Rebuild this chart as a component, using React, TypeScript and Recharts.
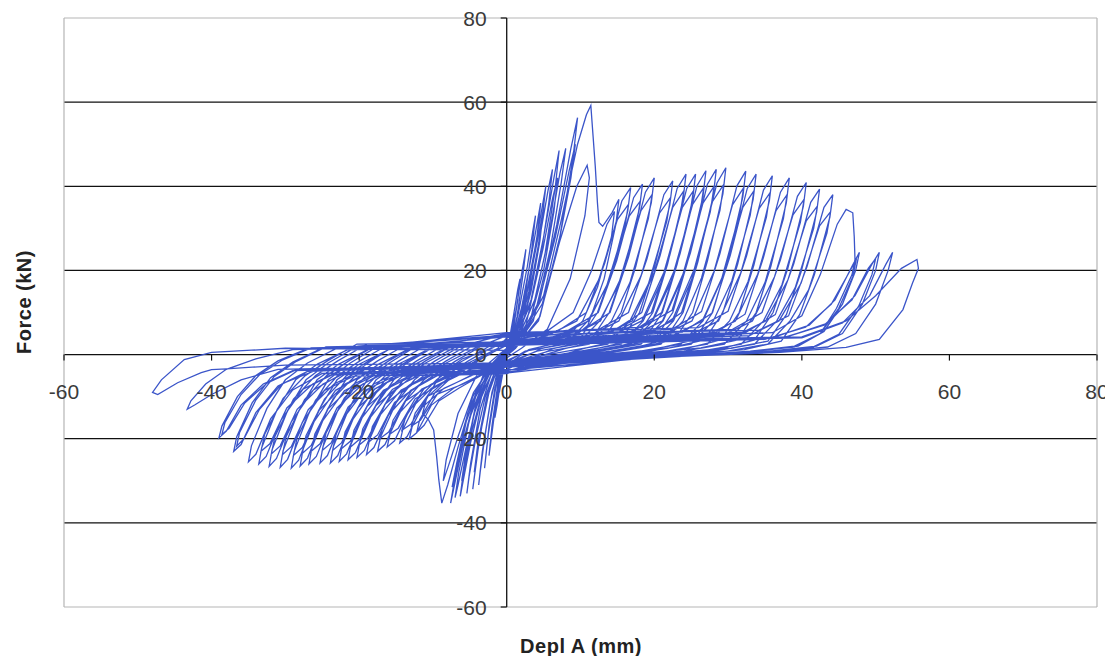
import { LineChart, Line, XAxis, YAxis, CartesianGrid, ReferenceLine } from 'recharts';

// displacement (mm), force (kN)
const elasticCycles = [
  [0, 0], [0.3, 3], [0.7, 7], [1.0, 10], [0.8, 7], [0.4, 3], [0, 0.5], [-0.3, -2.5], [-0.7, -6], [-1.0, -9], [-0.8, -6.5], [-0.4, -2.5], [0, 0],
  [0.3, 2.5], [0.9, 9], [1.5, 15.5], [1.8, 18], [1.5, 13], [0.9, 6], [0.3, 1.5], [-0.3, -1.5], [-0.8, -6], [-1.3, -12], [-1.6, -15], [-1.3, -10.5], [-0.7, -4.5], [-0.1, 0.5],
  [0.5, 3.5], [1.3, 11], [2.1, 20], [2.6, 25], [2.2, 19], [1.4, 9], [0.6, 2.5], [-0.4, -1.5], [-1.1, -7], [-1.8, -16], [-2.4, -24], [-2.0, -17], [-1.2, -7], [-0.4, -0.5],
  [0.6, 3], [1.6, 10], [2.8, 21], [3.5, 29], [3.9, 33], [3.4, 25], [2.4, 13], [1.2, 4], [0, 0.5], [-0.8, -2.5], [-1.6, -8], [-2.4, -17], [-3.0, -27], [-2.5, -19], [-1.5, -8], [-0.5, -0.5],
  [0.8, 3.5], [2.0, 11], [3.3, 23], [4.2, 32], [4.6, 36], [4.1, 28], [3.0, 15], [1.6, 5], [0.2, 0.5], [-1.0, -3], [-2.0, -9], [-3.0, -20], [-3.6, -28], [-3.8, -31], [-3.3, -23], [-2.2, -11], [-1.0, -2], [0, 1],
  [1.0, 4], [2.4, 12], [3.8, 25], [4.8, 35], [5.3, 40], [4.8, 32], [3.6, 18], [2.0, 6], [0.4, 1], [-1.2, -3], [-2.4, -9], [-3.6, -19], [-4.3, -28], [-4.6, -32], [-4.1, -25], [-2.9, -12], [-1.4, -2.5], [0, 1],
  [0.9, 3.5], [2.2, 10], [3.6, 22], [4.6, 31], [5.0, 35], [4.5, 27], [3.3, 15], [1.8, 5], [0.3, 0.5], [-1.1, -3], [-2.3, -8], [-3.4, -17], [-4.1, -25], [-4.4, -28], [-3.9, -21], [-2.7, -10], [-1.3, -2], [0, 1],
  [1.2, 4.5], [2.8, 12], [4.4, 27], [5.6, 39], [6.2, 44], [5.7, 36], [4.4, 21], [2.6, 7], [0.6, 1], [-1.5, -3.5], [-2.9, -10], [-4.2, -20], [-5.1, -29], [-5.4, -33], [-4.9, -26], [-3.6, -13], [-1.8, -3], [0, 1.5],
  [1.5, 5], [3.3, 13], [5.0, 28], [6.4, 42], [7.1, 48.5], [6.6, 40], [5.2, 24], [3.2, 8], [0.8, 1.5], [-1.8, -3.5], [-3.4, -10], [-4.9, -21], [-5.9, -30], [-6.3, -33.7], [-5.8, -27], [-4.4, -14], [-2.2, -3.5], [0, 1.5],
  [1.4, 4.5], [3.2, 12], [4.9, 25], [6.2, 37], [6.9, 42], [6.4, 34], [5.0, 20], [3.0, 7], [0.7, 1.5], [-1.7, -3.5], [-3.3, -9], [-4.7, -18], [-5.7, -27], [-6.1, -30], [-5.6, -24], [-4.2, -12], [-2.1, -3], [0, 1.5],
  [1.8, 5], [3.8, 13], [5.7, 28], [7.2, 43], [8.0, 49], [7.4, 41], [5.9, 25], [3.6, 8], [1.0, 1.5], [-2.0, -3.5], [-3.8, -10], [-5.5, -22], [-6.6, -31], [-7.0, -34], [-6.5, -28], [-5.0, -15], [-2.6, -4], [0, 1.5],
  [2.0, 5], [4.5, 13], [6.8, 31], [8.7, 49], [9.6, 56.3], [9.0, 47], [7.2, 28], [4.5, 9], [1.2, 1.5], [-2.2, -3.5], [-4.2, -10], [-6.0, -22], [-7.2, -32], [-7.6, -35.3], [-7.0, -29], [-5.5, -16], [-3.0, -4], [0, 1.5],
  [1.9, 5], [4.3, 12], [6.6, 28], [8.5, 44], [9.3, 50], [8.7, 42], [6.9, 25], [4.3, 8], [1.1, 1.5], [-2.1, -3.5], [-4.1, -9], [-5.8, -20], [-7.0, -28.5], [-7.4, -31.5], [-6.8, -26], [-5.3, -14], [-2.9, -4], [0, 1.5],
];

const peakCycles = [
  [2.4, 5.5], [5.0, 14], [7.4, 32], [9.6, 50], [10.8, 57], [11.4, 59.2], [11.7, 52], [12.0, 44.8], [12.3, 36], [12.5, 31.4],
  [13.0, 30.5], [14.3, 33.8], [15.2, 36.9], [14.8, 31], [13.2, 18], [11.0, 7], [8.0, 2.5], [3.0, 1],
  [-2.5, -3.5], [-4.6, -10], [-6.6, -22], [-8.0, -31], [-8.8, -35.3], [-9.2, -29.8], [-9.5, -24.2], [-9.9, -17.9],
  [-10.6, -15.5], [-11.4, -14], [-10.8, -10], [-8.8, -4.5], [-6, -1], [-2, 1.5],
  [2.3, 5], [4.8, 12], [7.2, 27], [9.5, 40], [10.9, 45], [11.2, 42], [10.6, 33], [8.6, 18], [5.5, 6], [2, 1.5],
  [-2.4, -3.5], [-4.5, -9], [-6.5, -19], [-8, -27], [-8.6, -30], [-8.2, -25], [-6.6, -14], [-3.8, -4], [0, 1.5],
  [0, 3], [5, 5], [9, 10], [11.5, 20], [13.6, 31], [14.6, 34], [14.2, 28], [12.3, 16], [10.3, 8], [7.5, 3], [3, 1.2], [0, -2.5],
  [-3, -4.5], [-6.5, -8], [-9.2, -11], [-11.2, -16.8], [-12.2, -18.5], [-11.8, -15.5], [-9.7, -9], [-7.2, -5], [-4.2, -1.5], [-0.2, 2],
];

const softeningCycles = [
  [0, 3], [6.8, 5.5], [10.8, 10], [13.3, 21.8], [15.6, 36.5], [16.8, 39.7], [16.4, 34.1], [14.3, 19.9], [12.3, 10], [9.8, 3.5], [4.8, 1.5], [0, -2.5],
  [-3.2, -4.5], [-7.2, -8], [-10.2, -12], [-12.2, -18.6], [-13.2, -20], [-12.8, -17], [-10.7, -10], [-8.2, -6], [-5.2, -2], [-1.2, 1.5],
  [0, 4], [8.4, 5.8], [12.4, 10], [14.9, 22.3], [17.2, 37.3], [18.4, 40.5], [18.0, 34.8], [15.9, 20.3], [13.9, 10], [11.4, 3.5], [6.4, 1.5], [0, -3.5],
  [-4.5, -4.8], [-8.5, -8], [-11.5, -12.6], [-13.5, -19.5], [-14.5, -21], [-14.1, -17.9], [-12, -10.5], [-9.5, -6], [-6.5, -2], [-2.5, 1.8],
  [0, 3.5], [10, 5.5], [14, 10], [16.5, 23.1], [18.8, 38.6], [20, 42], [19.6, 36.1], [17.5, 21], [15.5, 10], [13, 3.5], [8, 1.5], [0, -2.8],
  [-6.2, -4.5], [-10.2, -8], [-13.2, -13.2], [-15.2, -20.5], [-16.2, -22], [-15.8, -18.7], [-13.7, -11], [-11.2, -6], [-8.2, -2], [-4.2, 1.6],
  [0, 4.5], [12.5, 6], [16.5, 10], [19, 22.7], [21.3, 38], [22.5, 41.3], [22.1, 35.5], [20, 20.7], [18, 10], [15.5, 3.5], [10.5, 1.5], [0, -4],
  [-7.5, -5], [-11.5, -8.2], [-14.5, -13.8], [-16.5, -21.4], [-17.5, -23], [-17.1, -19.6], [-15, -11.5], [-12.5, -6], [-9.5, -2], [-5.5, 2],
  [0, 3.2], [14.3, 5.5], [18.3, 10], [20.8, 23.6], [23.1, 39.5], [24.3, 42.9], [23.9, 36.9], [21.8, 21.5], [19.8, 10], [17.3, 3.5], [12.3, 1.5], [0, -3],
  [-9, -4.6], [-13, -8.5], [-16, -14.3], [-18, -22.1], [-19, -23.8], [-18.6, -20.2], [-16.5, -11.9], [-14, -6], [-11, -2], [-7, 1.7],
  [0, 4.8], [15.6, 6.2], [19.6, 10], [22.1, 23.6], [24.4, 39.5], [25.6, 42.9], [25.2, 36.9], [23.1, 21.5], [21.1, 10], [18.6, 3.5], [13.6, 1.3], [0, -4.5],
  [-10.3, -5], [-14.3, -8.4], [-17.3, -14.7], [-19.3, -22.8], [-20.3, -24.5], [-19.9, -20.8], [-17.8, -12.3], [-15.3, -6], [-12.3, -2.2], [-8.3, 1.5],
  [0, 3], [17, 5.4], [21, 10], [23.5, 24], [25.8, 40.2], [27, 43.7], [26.6, 37.6], [24.5, 21.9], [22.5, 10], [20, 3.5], [15, 1.7], [0, -2.2],
  [-11.5, -4.4], [-15.5, -8.3], [-18.5, -15], [-20.5, -23.3], [-21.5, -25], [-21.1, -21.3], [-19, -12.5], [-16.5, -6], [-13.5, -2], [-9.5, 2.2],
  [0, 5], [18.4, 6.5], [22.4, 10.5], [24.9, 24.2], [27.2, 40.5], [28.4, 44], [28, 37.8], [25.9, 22], [23.9, 10], [21.4, 3.5], [16.4, 1.2], [0, -3.8],
  [-12.7, -5], [-16.7, -8.5], [-19.7, -15.2], [-21.7, -23.6], [-22.7, -25.4], [-22.3, -21.6], [-20.2, -12.7], [-17.7, -6], [-14.7, -2.3], [-10.7, 1.2],
  [0, 2.8], [19.7, 5.2], [23.7, 10], [26.2, 24.4], [28.5, 40.8], [29.7, 44.4], [29.3, 38.2], [27.2, 22.2], [25.2, 10], [22.7, 3.5], [17.7, 1.6], [0, -2.6],
  [-13.9, -4.3], [-17.9, -8.2], [-20.9, -15.5], [-22.9, -24], [-23.9, -25.8], [-23.5, -21.9], [-21.4, -12.9], [-18.9, -6], [-15.9, -2], [-11.9, 2.4],
  [0, 4.2], [22.4, 6], [26.4, 10.2], [28.9, 24], [31.2, 40.1], [32.4, 43.6], [32, 37.5], [29.9, 21.8], [27.9, 10], [25.4, 3.5], [20.4, 1.4], [0, -4.2],
  [-15.3, -5.2], [-19.3, -8.6], [-22.3, -15.5], [-24.3, -24], [-25.3, -25.8], [-24.9, -21.9], [-22.8, -12.9], [-20.3, -6], [-17.3, -2.2], [-13.3, 1.3],
  [0, 3], [23.8, 5.3], [27.8, 9.8], [30.3, 23.6], [32.6, 39.5], [33.8, 42.9], [33.4, 36.9], [31.3, 21.5], [29.3, 10], [26.8, 3.5], [21.8, 1.5], [0, -2.4],
  [-16.8, -4.4], [-20.8, -8.3], [-23.8, -15.6], [-25.8, -24.2], [-26.8, -26], [-26.4, -22.1], [-24.3, -13], [-21.8, -6], [-18.8, -2], [-14.8, 2.6],
  [0, 5.2], [26, 6.4], [30, 10.3], [32.5, 23.4], [34.8, 39.1], [36, 42.5], [35.6, 36.6], [33.5, 21.3], [31.5, 10], [29, 3.5], [24, 1.3], [0, -3.6],
  [-18, -5], [-22, -8.6], [-25, -15.9], [-27, -24.6], [-28, -26.5], [-27.6, -22.5], [-25.5, -13.3], [-23, -6], [-20, -2.3], [-16, 1.2],
  [0, 2.7], [28.3, 5.2], [32.3, 9.6], [34.8, 23.1], [37.1, 38.6], [38.3, 42], [37.9, 36.1], [35.8, 21], [33.8, 10], [31.3, 3.5], [26.3, 1.6], [0, -2.9],
  [-19.2, -4.6], [-23.2, -8.5], [-26.2, -16.2], [-28.2, -25.1], [-29.2, -27], [-28.8, -23], [-26.7, -13.5], [-24.2, -6], [-21.2, -2], [-17.2, 2.3],
  [0, 4.4], [30.6, 6], [34.6, 10], [37.1, 22.5], [39.4, 37.6], [40.6, 40.9], [40.2, 35.2], [38.1, 20.5], [36.1, 10], [33.6, 3.5], [28.6, 1.2], [0, -4.4],
  [-20.7, -5.1], [-24.7, -8.5], [-27.7, -16.1], [-29.7, -24.9], [-30.7, -26.8], [-30.3, -22.8], [-28.2, -13.4], [-25.7, -6], [-22.7, -2.2], [-18.7, 1.3],
  [0, 3.1], [32.4, 5.3], [36.4, 9.5], [38.9, 21.6], [41.2, 36.2], [42.4, 39.3], [42, 33.8], [39.9, 19.7], [37.9, 9.5], [35.4, 3.2], [30.4, 1.5], [0, -2.5],
  [-22.2, -4.5], [-26.2, -8.4], [-29.2, -16], [-31.2, -24.7], [-32.2, -26.6], [-31.8, -22.6], [-29.7, -13.3], [-27.2, -6], [-24.2, -2], [-20.2, 2],
  [0, 4.6], [34.2, 5.8], [38.2, 9.2], [40.7, 20.9], [43, 35], [44.2, 38], [43.8, 32.7], [41.7, 19], [39.7, 9.5], [37.2, 3.2], [32.2, 1.2], [0, -3.7],
  [-23.6, -4.8], [-27.6, -8.2], [-30.6, -15.6], [-32.6, -24.2], [-33.6, -26], [-33.2, -22.1], [-31.1, -13], [-28.6, -6], [-25.6, -2.2], [-21.6, 1.1],
];

// second cycle at each displacement level, a little weaker
const repeatCycles = [
  [0, 2], [5.5, 4.5], [9.5, 8], [12.5, 17.9], [15, 32.1], [16.5, 35.7], [16, 30.3], [13.5, 16.1], [11, 8], [8, 2.5], [2.5, 0.8], [0, -1.8],
  [-1.9, -3.5], [-5.9, -7], [-9.4, -9.4], [-11.7, -15.6], [-12.9, -17], [-12.4, -13.9], [-9.9, -7.7], [-6.9, -5], [-3.9, -1.5], [0.1, 2.5],
  [0, 2.2], [7.1, 4.5], [11.1, 8], [14.1, 18.3], [16.6, 32.9], [18.1, 36.5], [17.6, 31], [15.1, 16.4], [12.6, 8], [9.6, 2.5], [4.1, 0.8], [0, -2],
  [-3.2, -3.5], [-7.2, -7], [-10.7, -9.9], [-13, -16.6], [-14.2, -18], [-13.7, -14.8], [-11.2, -8.1], [-8.2, -5], [-5.2, -1.5], [-1.2, 2.5],
  [0, 2.4], [8.7, 4.5], [12.7, 8], [15.7, 19], [18.2, 34.2], [19.7, 38], [19.2, 32.3], [16.7, 17.1], [14.2, 8], [11.2, 2.5], [5.7, 0.8], [0, -2.2],
  [-4.9, -3.5], [-8.9, -7], [-12.4, -10.5], [-14.7, -17.5], [-15.9, -19], [-15.4, -15.6], [-12.9, -8.6], [-9.9, -5], [-6.9, -1.5], [-2.9, 2.5],
  [0, 2], [11.2, 4.5], [15.2, 8], [18.2, 18.7], [20.7, 33.6], [22.2, 37.3], [21.7, 31.7], [19.2, 16.8], [16.7, 8], [13.7, 2.5], [8.2, 0.8], [0, -1.8],
  [-6.2, -3.5], [-10.2, -7], [-13.7, -11], [-16, -18.4], [-17.2, -20], [-16.7, -16.4], [-14.2, -9], [-11.2, -5], [-8.2, -1.5], [-4.2, 2.5],
  [0, 2.3], [13, 4.5], [17, 8], [20, 19.5], [22.5, 35], [24, 38.9], [23.5, 33.1], [21, 17.5], [18.5, 8], [15.5, 2.5], [10, 0.8], [0, -2],
  [-7.7, -3.5], [-11.7, -7], [-15.2, -11.4], [-17.5, -19.1], [-18.7, -20.8], [-18.2, -17.1], [-15.7, -9.4], [-12.7, -5], [-9.7, -1.5], [-5.7, 2.5],
  [0, 2.1], [14.3, 4.5], [18.3, 8], [21.3, 19.5], [23.8, 35], [25.3, 38.9], [24.8, 33.1], [22.3, 17.5], [19.8, 8], [16.8, 2.5], [11.3, 0.8], [0, -1.9],
  [-9, -3.5], [-13, -7], [-16.5, -11.8], [-18.8, -19.8], [-20, -21.5], [-19.5, -17.6], [-17, -9.7], [-14, -5], [-11, -1.5], [-7, 2.5],
  [0, 2.5], [15.7, 4.5], [19.7, 8], [22.7, 19.9], [25.2, 35.7], [26.7, 39.7], [26.2, 33.7], [23.7, 17.9], [21.2, 8], [18.2, 2.5], [12.7, 0.8], [0, -2.1],
  [-10.2, -3.5], [-14.2, -7], [-17.7, -12.1], [-20, -20.2], [-21.2, -22], [-20.7, -18], [-18.2, -9.9], [-15.2, -5], [-12.2, -1.5], [-8.2, 2.5],
  [0, 2.2], [17.1, 4.5], [21.1, 8], [24.1, 20], [26.6, 36], [28.1, 40], [27.6, 34], [25.1, 18], [22.6, 8], [19.6, 2.5], [14.1, 0.8], [0, -2.3],
  [-11.4, -3.5], [-15.4, -7], [-18.9, -12.3], [-21.2, -20.6], [-22.4, -22.4], [-21.9, -18.4], [-19.4, -10.1], [-16.4, -5], [-13.4, -1.5], [-9.4, 2.5],
  [0, 2.4], [18.4, 4.5], [22.4, 8], [25.4, 20.2], [27.9, 36.4], [29.4, 40.4], [28.9, 34.3], [26.4, 18.2], [23.9, 8], [20.9, 2.5], [15.4, 0.8], [0, -2],
  [-12.6, -3.5], [-16.6, -7], [-20.1, -12.5], [-22.4, -21], [-23.6, -22.8], [-23.1, -18.7], [-20.6, -10.3], [-17.6, -5], [-14.6, -1.5], [-10.6, 2.5],
  [0, 2.1], [21.1, 4.5], [25.1, 8], [28.1, 19.8], [30.6, 35.6], [32.1, 39.6], [31.6, 33.7], [29.1, 17.8], [26.6, 8], [23.6, 2.5], [18.1, 0.8], [0, -1.9],
  [-14, -3.5], [-18, -7], [-21.5, -12.5], [-23.8, -21], [-25, -22.8], [-24.5, -18.7], [-22, -10.3], [-19, -5], [-16, -1.5], [-12, 2.5],
  [0, 2.5], [22.5, 4.5], [26.5, 8], [29.5, 19.5], [32, 35], [33.5, 38.9], [33, 33.1], [30.5, 17.5], [28, 8], [25, 2.5], [19.5, 0.8], [0, -2.2],
  [-15.5, -3.5], [-19.5, -7], [-23, -12.7], [-25.3, -21.2], [-26.5, -23], [-26, -18.9], [-23.5, -10.4], [-20.5, -5], [-17.5, -1.5], [-13.5, 2.5],
  [0, 2.3], [24.7, 4.5], [28.7, 8], [31.7, 19.3], [34.2, 34.7], [35.7, 38.5], [35.2, 32.7], [32.7, 17.3], [30.2, 8], [27.2, 2.5], [21.7, 0.8], [0, -2],
  [-16.7, -3.5], [-20.7, -7], [-24.2, -12.9], [-26.5, -21.6], [-27.7, -23.5], [-27.2, -19.3], [-24.7, -10.6], [-21.7, -5], [-18.7, -1.5], [-14.7, 2.5],
  [0, 2.2], [27, 4.5], [31, 8], [34, 19], [36.5, 34.2], [38, 38], [37.5, 32.3], [35, 17.1], [32.5, 8], [29.5, 2.5], [24, 0.8], [0, -2.1],
  [-17.9, -3.5], [-21.9, -7], [-25.4, -13.2], [-27.7, -22.1], [-28.9, -24], [-28.4, -19.7], [-25.9, -10.8], [-22.9, -5], [-19.9, -1.5], [-15.9, 2.5],
  [0, 2.4], [29.3, 4.5], [33.3, 8], [36.3, 18.5], [38.8, 33.2], [40.3, 36.9], [39.8, 31.4], [37.3, 16.6], [34.8, 8], [31.8, 2.5], [26.3, 0.8], [0, -2],
  [-19.4, -3.5], [-23.4, -7], [-26.9, -13.1], [-29.2, -21.9], [-30.4, -23.8], [-29.9, -19.5], [-27.4, -10.7], [-24.4, -5], [-21.4, -1.5], [-17.4, 2.5],
  [0, 2.1], [31.1, 4.5], [35.1, 8], [38.1, 17.7], [40.6, 31.8], [42.1, 35.3], [41.6, 30], [39.1, 15.9], [36.6, 8], [33.6, 2.5], [28.1, 0.8], [0, -1.9],
  [-20.9, -3.5], [-24.9, -7], [-28.4, -13], [-30.7, -21.7], [-31.9, -23.6], [-31.4, -19.4], [-28.9, -10.6], [-25.9, -5], [-22.9, -1.5], [-18.9, 2.5],
  [0, 2.3], [32.9, 4.5], [36.9, 8], [39.9, 17], [42.4, 30.6], [43.9, 34], [43.4, 28.9], [40.9, 15.3], [38.4, 8], [35.4, 2.5], [29.9, 0.8], [0, -2.2],
  [-22.3, -3.5], [-26.3, -7], [-29.8, -12.7], [-32.1, -21.2], [-33.3, -23], [-32.8, -18.9], [-30.3, -10.4], [-27.3, -5], [-24.3, -1.5], [-20.3, 2.5],
];

const failureCycles = [
  [0, 3], [36, 5.2], [40, 9.2], [42.5, 19], [44.8, 31], [46, 34.5], [46.9, 33.7], [47.1, 28], [47.2, 22.6], [46.8, 19], [44.7, 11], [42.5, 5], [39, 2], [33, 0.8], [0, -3],
  [-25, -4.5], [-29, -8.4], [-32, -15.3], [-34, -23.7], [-35, -25.5], [-34.6, -21.7], [-32.5, -12.8], [-30, -6], [-27, -2], [-23, 1.5],
  [0, 2.5], [36, 4], [41, 7], [44.5, 13], [46.8, 21], [47.8, 24.3], [47.3, 20], [45.5, 12], [43, 5.5], [39.5, 2], [33, 0.6], [0, -2.5],
  [-27, -4], [-31, -7.5], [-34, -13.8], [-36, -21.4], [-37, -23], [-36.6, -19.6], [-34.5, -11.5], [-32, -5.5], [-29, -1.8], [-25, 1.5],
  [0, 2.2], [35, 3.6], [40.5, 6.5], [44, 12], [46.4, 19.5], [47.4, 22.8], [46.9, 18.5], [45, 11], [42.5, 5], [39, 1.8], [32, 0.6], [0, -2],
  [-26, -3.8], [-30.5, -7], [-33.5, -13], [-35.6, -20], [-36.6, -21.8], [-36.2, -18.5], [-34, -10.8], [-31.5, -5.2], [-28.5, -1.6], [-24.5, 1.8],
  [0, 2.7], [38, 4.2], [43.5, 7.5], [47.2, 14], [49.5, 21.5], [50.5, 24.3], [50, 20], [48.2, 12], [45.5, 5], [42, 2], [35, 0.7], [0, -2.8],
  [-29, -3.8], [-33, -7], [-36, -12], [-38, -18.2], [-39, -19.8], [-38.6, -17], [-36.5, -10], [-34, -5], [-31, -1.5], [-27, 1.4],
  [0, 2.4], [37.5, 4], [43, 7], [46.8, 13], [49, 20.5], [50, 22.8], [49.5, 19], [47.7, 11.5], [45, 4.8], [41.5, 1.8], [34.5, 0.6], [0, -2.2],
  [-28.5, -3.6], [-32.5, -6.8], [-35.5, -11.5], [-37.6, -17.5], [-38.6, -19], [-38.2, -16.2], [-36, -9.5], [-33.5, -4.8], [-30.5, -1.4], [-26.5, 1.6],
  [0, 2.5], [40, 4], [45.5, 7.5], [49.2, 14], [51.4, 21.5], [52.3, 24.3], [51.7, 20], [50, 12], [47.3, 5], [43.5, 1.8], [36, 0.6], [0, -2.4],
  [-31, -3.5], [-36, -6], [-40, -9.5], [-42.3, -12], [-43.3, -13], [-42.8, -11], [-40.8, -7], [-38, -3.5], [-34, -1], [-29, 1.2],
  [0, 2.5], [40, 4.2], [46, 8], [50, 14], [53.5, 20.5], [55.6, 22.6], [55.8, 20.5], [55, 17], [53.7, 10.7], [50.5, 3.6], [46, 1.7], [37, 0.5], [0, -2],
  [-30, -2.5], [-38, -3.4], [-40, -3.6], [-41.4, -4.3], [-44.6, -6.7], [-47.3, -9.5], [-48, -9], [-46.8, -6], [-43.7, -1.2], [-40, 0.5], [-30, 1.5], [0, 1],
];

const xTicks = [-60, -40, -20, 0, 20, 40, 60, 80];
const yTicks = [-60, -40, -20, 0, 20, 40, 60, 80];
const gridValues = [-40, -20, 0, 20, 40, 60];

const data = [...elasticCycles, ...peakCycles, ...softeningCycles, ...repeatCycles, ...failureCycles].map(([d, f]) => ({ disp: d, force: f }));

const W = 1100;
const H = 648;
const PLOT = { left: 56, top: 10, width: 1033, height: 589 };
const zeroX = PLOT.left + (60 / 140) * PLOT.width;
const zeroY = PLOT.top + (80 / 140) * PLOT.height;
const tickFont = { fontFamily: 'Arial, "Liberation Sans", sans-serif', fontSize: 21, fill: '#3a3a3a' };

const XTick = (props: any) => {
  const { x, payload } = props;
  return (
    <g>
      <line x1={x} x2={x} y1={zeroY} y2={zeroY + 6} stroke="#111" strokeWidth={1.2} />
      <text x={x} y={zeroY + 37} textAnchor="middle" dominantBaseline="central" {...tickFont}>
        {payload.value}
      </text>
    </g>
  );
};

const YTick = (props: any) => {
  const { y, payload } = props;
  return (
    <g>
      <line x1={zeroX - 6} x2={zeroX} y1={y} y2={y} stroke="#111" strokeWidth={1.2} />
      <text x={zeroX - 20} y={y} textAnchor="end" dominantBaseline="central" {...tickFont}>
        {payload.value}
      </text>
    </g>
  );
};

const titleStyle: React.CSSProperties = {
  position: 'absolute',
  fontFamily: 'Arial, "Liberation Sans", sans-serif',
  fontWeight: 'bold',
  fontSize: 20,
  color: '#222',
  whiteSpace: 'nowrap',
  letterSpacing: 0.5,
};

export default function App() {
  return (
    <div style={{ position: 'relative', width: W, height: H, background: '#fff' }}>
      <LineChart width={W} height={H} data={data} margin={{ top: 10, right: 11, bottom: 19, left: 26 }}>
        <CartesianGrid vertical={false} horizontalValues={gridValues} stroke="#111" strokeWidth={1.3} />
        <ReferenceLine y={80} stroke="#b5b5b5" strokeWidth={1.2} />
        <ReferenceLine y={-60} stroke="#b5b5b5" strokeWidth={1.2} />
        <ReferenceLine x={-60} stroke="#b5b5b5" strokeWidth={1.2} />
        <ReferenceLine x={80} stroke="#b5b5b5" strokeWidth={1.2} />
        <XAxis
          type="number"
          dataKey="disp"
          domain={[-60, 80]}
          ticks={xTicks}
          interval={0}
          axisLine={false}
          tickLine={false}
          height={30}
          tick={XTick}
        />
        <YAxis
          type="number"
          domain={[-60, 80]}
          ticks={yTicks}
          interval={0}
          axisLine={false}
          tickLine={false}
          width={30}
          tick={YTick}
        />
        <ReferenceLine x={0} stroke="#111" strokeWidth={1.3} />
        <Line
          type="linear"
          dataKey="force"
          stroke="#3b55c9"
          strokeWidth={1.3}
          dot={false}
          isAnimationActive={false}
        />
      </LineChart>
      <div style={{ ...titleStyle, left: 16, top: 294, transform: 'translate(-50%, -50%) rotate(-90deg)' }}>Force (kN)</div>
      <div style={{ ...titleStyle, left: 573, top: 638, transform: 'translate(-50%, -50%)' }}>Depl A (mm)</div>
    </div>
  );
}
